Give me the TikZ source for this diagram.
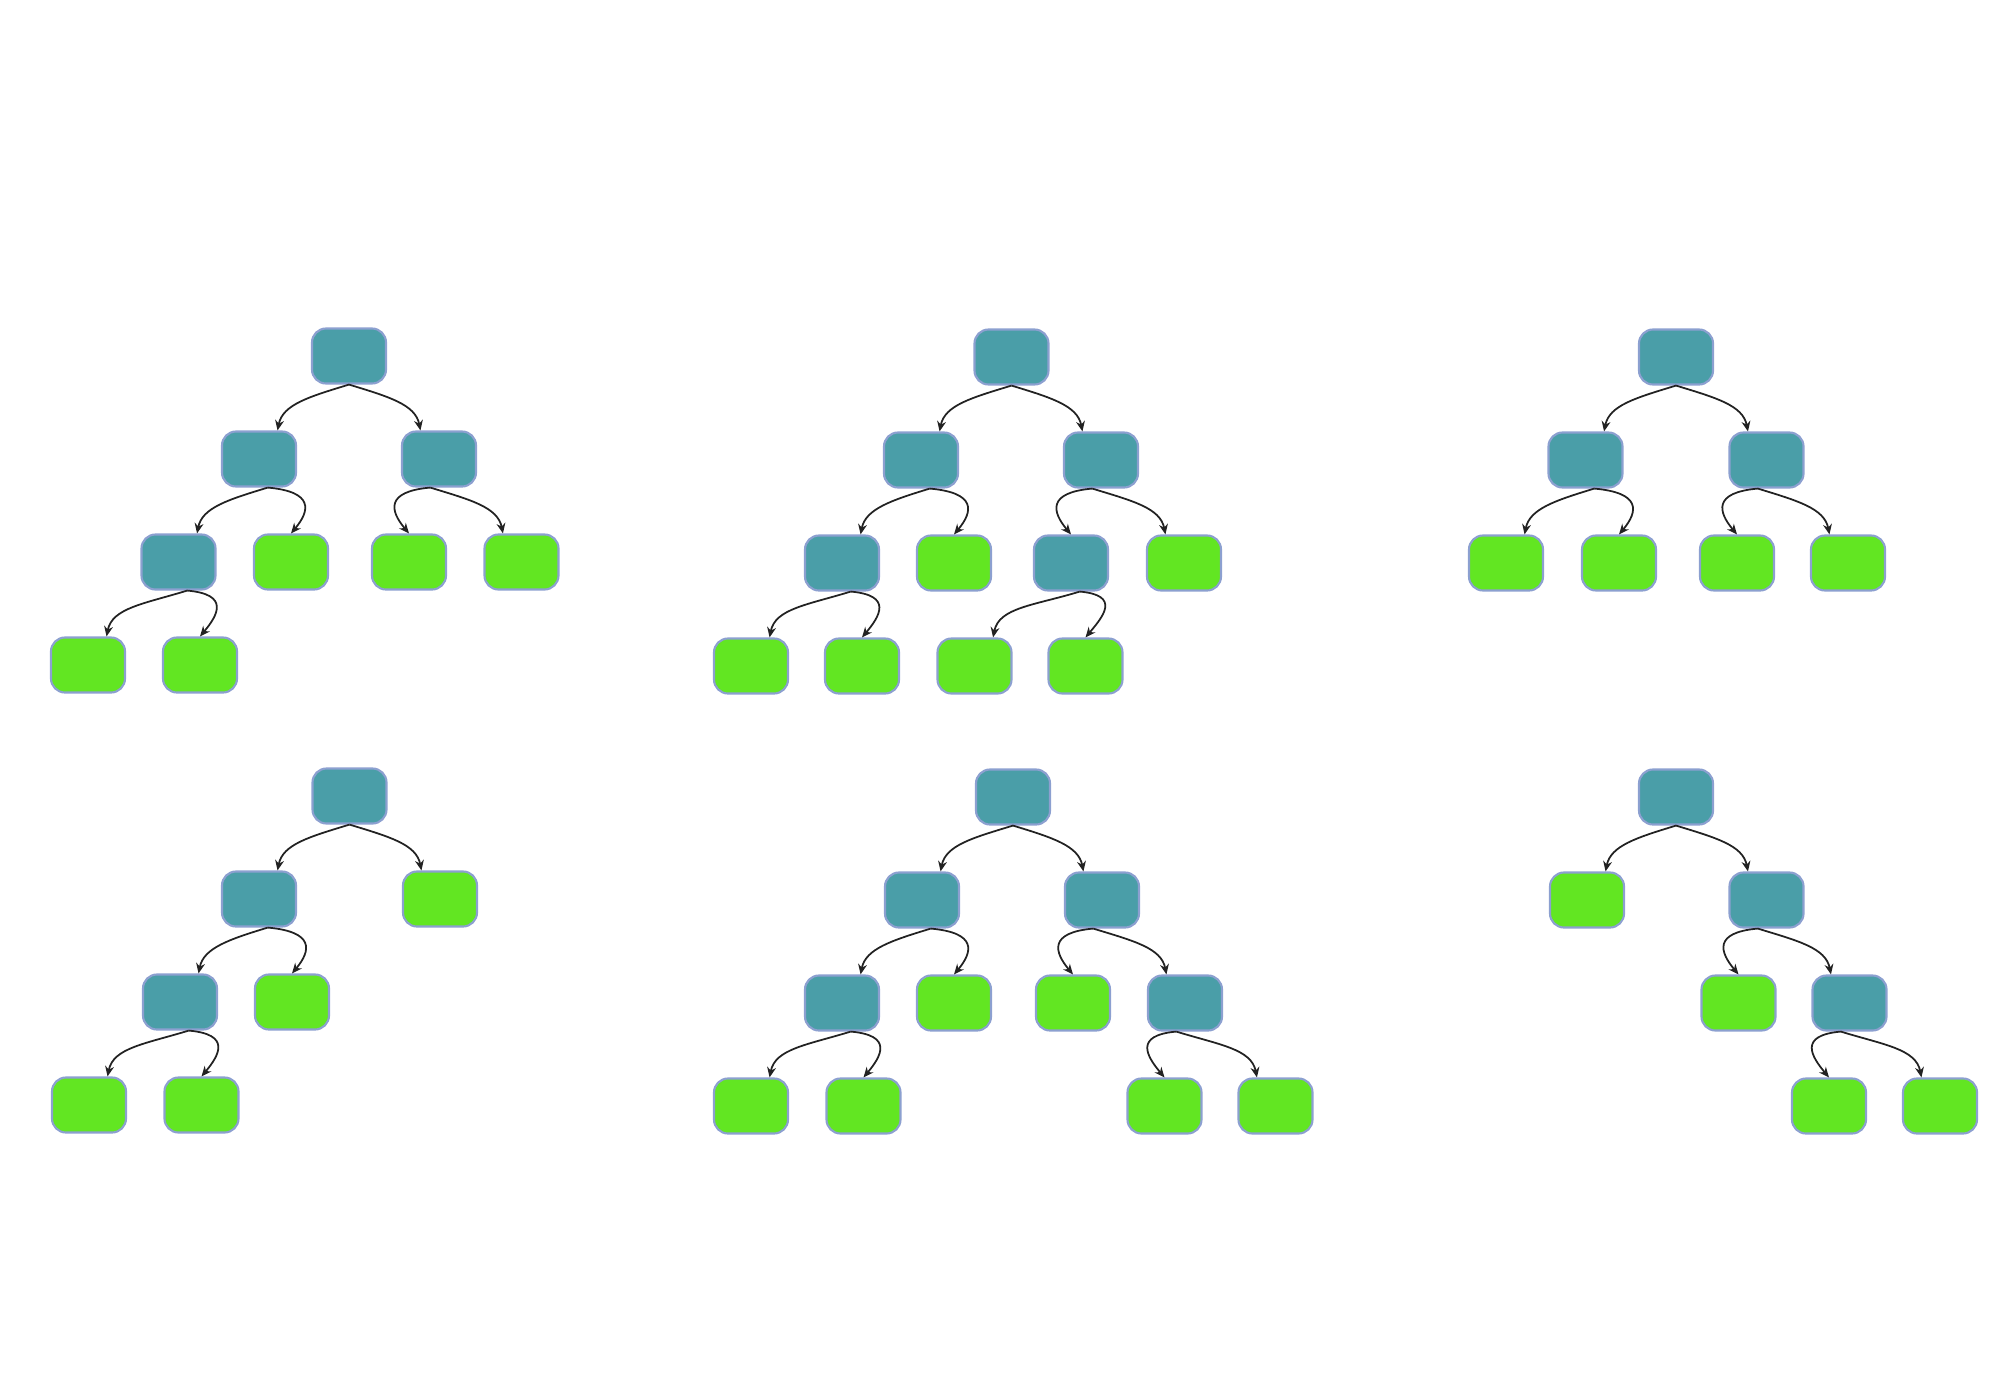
\documentclass[tikz,border=0pt]{standalone}
\usetikzlibrary{arrows.meta}
\definecolor{nodeteal}{RGB}{74,158,168}
\definecolor{leafgreen}{RGB}{98,230,34}
\definecolor{nodeedge}{RGB}{140,160,208}
\definecolor{linkdark}{RGB}{34,34,34}

\begin{document}
\begin{tikzpicture}[
  x=0.01cm, y=0.01cm,
  inner/.style={rectangle, draw=nodeedge, fill=nodeteal, line width=0.6pt, minimum width=0.74cm, minimum height=0.55cm, rounded corners=4pt, inner sep=0pt},
  leaf/.style={inner, fill=leafgreen},
  arrow/.style={-{Stealth[length=2.9pt, width=2.5pt]}, draw=linkdark, line width=0.5pt},
  farleft/.style={arrow, out=197, in=79, out looseness=1.25, in looseness=0.8},
  farright/.style={arrow, out=-17, in=101, out looseness=1.25, in looseness=0.8},
  nearleft/.style={arrow, out=185, in=130, out looseness=2.3, in looseness=1.5},
  nearright/.style={arrow, out=-5, in=50, out looseness=2.3, in looseness=1.5},
]
  \useasboundingbox (0,0) rectangle (2000,-1400);

  % Tree 1 (top left)
  \node[inner] (root1) at (349,-356) {};
  \node[inner] (l1) at (259,-459) {};
  \node[inner] (r1) at (439,-459) {};
  \node[inner] (ll1) at (178.5,-562) {};
  \node[leaf] (lr1) at (291,-562) {};
  \node[leaf] (rl1) at (409,-562) {};
  \node[leaf] (rr1) at (521.5,-562) {};
  \node[leaf] (lll1) at (88,-665) {};
  \node[leaf] (llr1) at (200,-665) {};

  \draw[farleft] (root1.south) to (l1.57);
  \draw[farright] (root1.south) to (r1.123);
  \draw[farleft] (l1.-73) to (ll1.57);
  \draw[nearright] (l1.-73) to (lr1.north);
  \draw[nearleft] (r1.-107) to (rl1.north);
  \draw[farright] (r1.-107) to (rr1.123);
  \draw[farleft] (ll1.-73) to (lll1.57);
  \draw[nearright] (ll1.-73) to (llr1.north);

  % Tree 2 (top middle)
  \node[inner] (root2) at (1011.5,-357) {};
  \node[inner] (l2) at (921,-460) {};
  \node[inner] (r2) at (1101,-460) {};
  \node[inner] (ll2) at (842,-563) {};
  \node[leaf] (lr2) at (954,-563) {};
  \node[inner] (rl2) at (1071,-563) {};
  \node[leaf] (rr2) at (1184,-563) {};
  \node[leaf] (lll2) at (751,-666) {};
  \node[leaf] (llr2) at (862,-666) {};
  \node[leaf] (rll2) at (974.5,-666) {};
  \node[leaf] (rlr2) at (1085.5,-666) {};

  \draw[farleft] (root2.south) to (l2.57);
  \draw[farright] (root2.south) to (r2.123);
  \draw[farleft] (l2.-73) to (ll2.57);
  \draw[nearright] (l2.-73) to (lr2.north);
  \draw[nearleft] (r2.-107) to (rl2.north);
  \draw[farright] (r2.-107) to (rr2.123);
  \draw[farleft] (ll2.-73) to (lll2.57);
  \draw[nearright] (ll2.-73) to (llr2.north);
  \draw[farleft] (rl2.-73) to (rll2.57);
  \draw[nearright] (rl2.-73) to (rlr2.north);

  % Tree 3 (top right)
  \node[inner] (root3) at (1676,-357) {};
  \node[inner] (l3) at (1585.5,-460) {};
  \node[inner] (r3) at (1766.5,-460) {};
  \node[leaf] (ll3) at (1506,-563) {};
  \node[leaf] (lr3) at (1619,-563) {};
  \node[leaf] (rl3) at (1737,-563) {};
  \node[leaf] (rr3) at (1848,-563) {};

  \draw[farleft] (root3.south) to (l3.57);
  \draw[farright] (root3.south) to (r3.123);
  \draw[farleft] (l3.-73) to (ll3.57);
  \draw[nearright] (l3.-73) to (lr3.north);
  \draw[nearleft] (r3.-107) to (rl3.north);
  \draw[farright] (r3.-107) to (rr3.123);

  % Tree 4 (bottom left)
  \node[inner] (root4) at (349.5,-796) {};
  \node[inner] (l4) at (259,-899) {};
  \node[leaf] (r4) at (440,-899) {};
  \node[inner] (ll4) at (180,-1002) {};
  \node[leaf] (lr4) at (292,-1002) {};
  \node[leaf] (lll4) at (89,-1105) {};
  \node[leaf] (llr4) at (201.5,-1105) {};

  \draw[farleft] (root4.south) to (l4.57);
  \draw[farright] (root4.south) to (r4.123);
  \draw[farleft] (l4.-73) to (ll4.57);
  \draw[nearright] (l4.-73) to (lr4.north);
  \draw[farleft] (ll4.-73) to (lll4.57);
  \draw[nearright] (ll4.-73) to (llr4.north);

  % Tree 5 (bottom middle)
  \node[inner] (root5) at (1013,-797) {};
  \node[inner] (l5) at (922,-900) {};
  \node[inner] (r5) at (1102,-900) {};
  \node[inner] (ll5) at (842,-1003) {};
  \node[leaf] (lr5) at (954,-1003) {};
  \node[leaf] (rl5) at (1073,-1003) {};
  \node[inner] (rr5) at (1185,-1003) {};
  \node[leaf] (lll5) at (751,-1106) {};
  \node[leaf] (llr5) at (863.5,-1106) {};
  \node[leaf] (rrl5) at (1164.5,-1106) {};
  \node[leaf] (rrr5) at (1275.5,-1106) {};

  \draw[farleft] (root5.south) to (l5.57);
  \draw[farright] (root5.south) to (r5.123);
  \draw[farleft] (l5.-73) to (ll5.57);
  \draw[nearright] (l5.-73) to (lr5.north);
  \draw[nearleft] (r5.-107) to (rl5.north);
  \draw[farright] (r5.-107) to (rr5.123);
  \draw[farleft] (ll5.-73) to (lll5.57);
  \draw[nearright] (ll5.-73) to (llr5.north);
  \draw[nearleft] (rr5.-107) to (rrl5.north);
  \draw[farright] (rr5.-107) to (rrr5.123);

  % Tree 6 (bottom right)
  \node[inner] (root6) at (1676,-797) {};
  \node[leaf] (l6) at (1587,-900) {};
  \node[inner] (r6) at (1766.5,-900) {};
  \node[leaf] (rl6) at (1738.5,-1003) {};
  \node[inner] (rr6) at (1849.5,-1003) {};
  \node[leaf] (rrl6) at (1829,-1106) {};
  \node[leaf] (rrr6) at (1940,-1106) {};

  \draw[farleft] (root6.south) to (l6.57);
  \draw[farright] (root6.south) to (r6.123);
  \draw[nearleft] (r6.-107) to (rl6.north);
  \draw[farright] (r6.-107) to (rr6.123);
  \draw[nearleft] (rr6.-107) to (rrl6.north);
  \draw[farright] (rr6.-107) to (rrr6.123);
\end{tikzpicture}
\end{document}
